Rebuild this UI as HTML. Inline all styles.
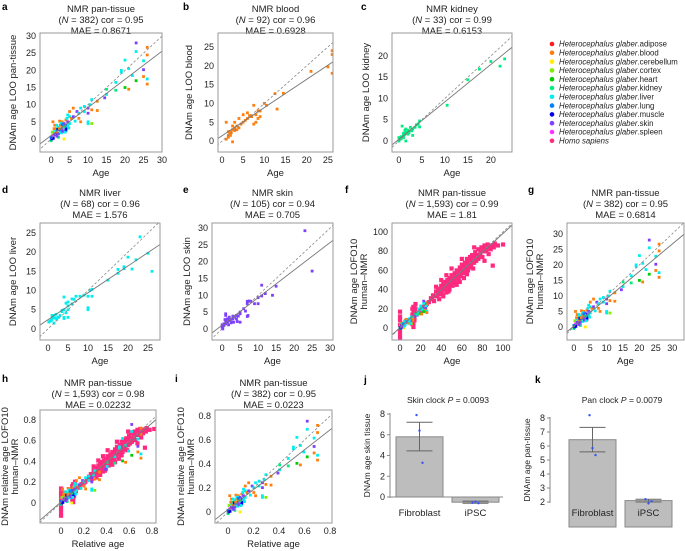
<!DOCTYPE html>
<html><head><meta charset="utf-8"><style>
html,body{margin:0;padding:0;background:#fff;width:685px;height:551px;overflow:hidden}
svg{display:block;font-family:"Liberation Sans",sans-serif}
</style></head><body>
<svg id="fig" width="685" height="551" viewBox="0 0 685 551" xmlns="http://www.w3.org/2000/svg"></svg>
<script>
const tissueNames=["adipose","blood","cerebellum","cortex","heart","kidney","liver","lung","muscle","skin","spleen"];
const colors=["#ff1a1a","#ff7f0e","#ffee00","#80ee00","#00cc00","#00ee80","#00eeee","#0080ff","#0000ee","#7f3fff","#ff33ff","#ff2a80"];
// NMR pan-tissue [age, predicted, tissue]
const aPts=[[23,28,9],[26,26.7,1],[23,25.5,6],[26,24.5,1],[20,23,6],[25,22.8,6],[19,20,6],[21,20.5,6],[25,20.2,9],[19,19.5,6],[22,18.5,6],[25,18.2,1],[26,17.5,6],[17.5,16.5,6],[23,17,4],[26,16,1],[20,15,4],[21,14.5,1],[17.5,14.2,5],[15,14.5,5],[15,13,6],[14.5,12,9],[12.5,11,1],[11,11.5,6],[10.5,10,6],[10,9,9],[9,9.5,6],[11,8.5,1],[12.5,8.3,1],[10,7.5,9],[8,9,6],[7,8,9],[7.5,6,1],[8,5,1],[10,5,6],[11,4.5,3],[10,4.5,6],[6,9,1],[5,8,1],[4.5,7,6],[5,6.5,6],[4,5.5,1],[3,5,1],[4.5,5,9],[3.5,4.5,9],[2.5,4,1],[2,3.5,6],[3,3,9],[4,3,8],[1.5,3,5],[1,2.5,6],[1.5,2,1],[2,1.5,9],[0.5,5,1],[1,4,1],[0.5,1,10],[0,0.5,7],[0,-0.5,5],[0.3,2,3],[1.2,1.2,8],[2.5,2.5,7],[3.5,0,2],[0.2,0,8],[1.5,4,6],[3,3.8,1],[4,2.5,8],[2,0.5,5],[5,4.5,6],[6.5,5.2,6],[3.5,3.5,5],[2.8,1.8,6],[4.2,4,8],[0.8,3,1],[1.8,2.8,8],[4.8,3.2,6],[5.5,6,1],[7.5,7.5,6],[9,8,6],[6,6.5,9],[2.3,5.2,1],[3.2,2.2,9],[2.2,3,1],[4.5,4,6],[1,1.5,9],[3.8,2,6],[2.7,4.6,6],[4.3,6,6],[0.6,0.2,8],[1.6,0.8,9],[3,4.2,7]];
const bPts=[[26,24],[26,23],[25,19.7],[26,18],[21,18.5],[14.5,12.7],[12.5,12.6],[13,8.5],[10,10],[10.5,9.5],[9,8],[8.5,8],[8,7],[7.5,9.5],[7.5,4.5],[8,5],[8.5,6],[9,6.5],[6,7.5],[6,6],[5,5],[5,7],[4,6],[4.5,4.5],[3.5,4],[3,5],[3,3.5],[2.5,4],[2.5,3],[2,2],[2,1.5],[1.5,2.5],[1.5,1],[1,5],[1,0.5],[2.5,-0.2],[2,2.5],[1.8,1.8],[2.2,2.2],[3,2.8],[5.5,5.5],[7,6.5],[4,3.5],[6.5,6.8],[3.5,3],[1.5,1.5]];
const cPts=[[23,19.3],[22,17.6],[20,18.7],[17.5,16.9],[15,14.4],[10.5,8.4],[4.5,4.7],[4.5,3.3],[3.8,3.8],[3,2.8],[3,1.3],[2.5,3.2],[2,2.5],[1.5,2.8],[1.5,2],[1.2,1.5],[1,0.8],[1,1.3],[0.7,3.5],[0.5,0.5],[0,0],[0,0.8],[1.5,0],[2.2,2],[3.5,3.2],[1.8,1.8],[0.5,1],[1.3,2.5],[2.8,2.4],[4.2,4],[0.2,0.4],[1,1.8],[2,1.6]];
const dPts=[[23,24],[25,19.7],[22,18],[20,18.7],[26,15],[19,16.2],[19,15.7],[21,15.6],[17.5,15.5],[17.5,14.5],[15,12.7],[11,10.3],[10.5,10],[11,8.5],[10,8.5],[9,8.8],[8,8.5],[10,5.5],[10,5],[7,8.5],[6,7.8],[6.5,7.7],[5,7],[4.5,6.7],[5,6],[4,8.3],[5,5],[4,5],[3.5,4.5],[5,3],[4,3],[3,3.5],[2,3.8],[1.5,3.5],[1.2,3],[1,2.5],[0.5,2],[1.5,1.5],[1,3.5],[2.5,3],[0.2,1.8],[1.8,2.8],[3.5,4.8],[4.5,4.2],[6,6.5],[0.8,2.2],[2.2,2.5],[4,2.7]];
const ePts=[[23,29.2],[25,17.2],[15,12.7],[14,10],[11,13],[11,9.8],[10,9.3],[12,10.5],[10,7.5],[8,8.2],[7,8.2],[7,7.5],[7.5,8.3],[9,7.5],[7.2,4],[7,3.7],[6,6],[5,5],[5,4.5],[5,2],[4.5,3.8],[4,4],[4,3],[3.5,3.5],[3,3.8],[3,3],[2.5,2.5],[2,3.5],[2,2.5],[1.5,3],[1.5,2],[1,4.5],[1,4],[1,2],[1,1.5],[0.5,1.5],[0.5,1],[0,0.5],[0,1.2],[0.2,0],[1.2,2.5],[2.5,1.8],[3.2,2],[1.8,1.2],[0.8,2.8],[4.2,2.2],[6.5,5.3],[2.2,2.8]];
const humanPts=[[13,5],[13,12],[14,18],[14,22],[15,25],[15,15],[12,10],[11,8],[14,8],[16,14],[12,20],[13,16],[20,18],[22,22],[25,24],[28,27],[30,31],[32,34],[33,28],[35,38],[36,33],[37,40],[38,36],[38,30],[40,44],[40,38],[41,35],[42,46],[43,40],[44,48],[45,42],[45,37],[46,50],[47,44],[48,52],[48,40],[49,47],[50,55],[50,48],[51,44],[52,53],[53,57],[53,50],[54,47],[55,60],[55,53],[56,56],[57,50],[58,63],[58,58],[59,54],[60,66],[60,61],[61,57],[62,64],[62,52],[63,68],[64,62],[65,72],[65,66],[66,60],[67,69],[68,74],[68,65],[69,71],[70,76],[70,68],[71,62],[72,73],[73,79],[74,70],[75,76],[76,82],[76,72],[78,78],[79,84],[80,74],[81,80],[82,86],[84,80],[85,87],[86,77],[88,82],[90,86],[92,88],[95,86],[100,87],[90,65],[82,70],[72,84],[60,72],[50,62],[45,55],[40,50],[35,43],[55,45],[65,56],[58,48],[47,38],[42,33],
[12,14],[13,22],[14,12],[15,20],[12,4],[13,1],[36,38],[39,41],[41,42],[43,45],[44,41],[46,46],[47,49],[49,51],[51,50],[52,48],[54,55],[56,52],[57,59],[59,60],[61,62],[63,60],[64,66],[66,68],[67,63],[69,66],[71,72],[72,68],[73,75],[75,72],[77,76],[78,74],[80,80],[83,83],[86,84],[88,86],[91,84],[62,58],[58,55],[55,57],[53,54],[50,52],[48,46],[45,47],[42,40],[39,37],[37,35],[34,33],[31,30],[26,25],[23,22],[0,-15],[0,-11],[0,-7],[0,-3],[0,3],[0,8],[0,12],[0,17]];
const maxLifespan={nmr:37,human:122};
const jMeans=[5.8,-0.5], jUpper=[7.2,-0.4], jLower=[4.45,-0.6];
const jDots=[[7.9,6.4,3.3],[-0.55,-0.45,-0.6]];
const kMeans=[6.45,2.1], kUpper=[7.33,2.2], kLower=[5.58,2.0];
const kDots=[[8.2,5.85,5.35],[2.2,1.9,2.05]];
const barCats=["Fibroblast","iPSC"];

const NS="http://www.w3.org/2000/svg", svg=document.getElementById('fig');
function el(tag,attrs,parent,txt){const e=document.createElementNS(NS,tag);for(const k in attrs)e.setAttribute(k,attrs[k]);if(txt!==undefined)e.textContent=txt;(parent||svg).appendChild(e);return e;}
let clipN=0;
function panel(c){
  const g=el('g',{});
  
  
  const sx=v=>c.bx[0]+(v-c.xr[0])/(c.xr[1]-c.xr[0])*(c.bx[1]-c.bx[0]);
  const sy=v=>c.by[1]-(v-c.yr[0])/(c.yr[1]-c.yr[0])*(c.by[1]-c.by[0]);
  const cx=(c.bx[0]+c.bx[1])/2;
  c.title.forEach((t,i)=>{const tt=el('text',{x:cx,y:c.ty+i*11,'text-anchor':'middle','font-size':'9.5',fill:'#222'},g);tt.innerHTML=t;});
  const id='cl'+(clipN++);
  const cp=el('clipPath',{id},g);el('rect',{x:c.bx[0],y:c.by[0],width:c.bx[1]-c.bx[0],height:c.by[1]-c.by[0]},cp);
  const inner=el('g',{'clip-path':'url(#'+id+')'},g);
  const pts=el('g',{},inner);
  
  
  c.series.forEach(s=>{const sz=s.sz||2.8;s.pts.forEach(p=>{const col=colors[p.length>2?p[2]:s.col];
    const r=el('rect',{x:sx(p[0]/(s.div||1))-sz/2,y:sy(p[1]/(s.div||1))-sz/2,width:sz,height:sz,fill:col},pts);
    });});
  const dl=el('line',{x1:sx(c.xr[0]-5),y1:sy(c.xr[0]-5),x2:sx(c.xr[1]+5),y2:sy(c.xr[1]+5),stroke:'#888','stroke-width':0.8,'stroke-dasharray':'2.5,2'},inner);
  
  const L=c.xr[1]-c.xr[0];
  const rl=el('line',{x1:sx(c.xr[0]-L),y1:sy(c.fit[0]+c.fit[1]*(c.xr[0]-L)),x2:sx(c.xr[1]+L),y2:sy(c.fit[0]+c.fit[1]*(c.xr[1]+L)),stroke:'#777','stroke-width':0.9},inner);
  
  const bx=el('rect',{x:c.bx[0],y:c.by[0],width:c.bx[1]-c.bx[0],height:c.by[1]-c.by[0],fill:'none',stroke:'#999','stroke-width':1},g);
  
  c.xt.forEach(v=>{const t=el('text',{x:sx(v),y:c.by[1]+11,'text-anchor':'middle','font-size':'9',fill:'#222'},g,String(v));});
  c.yt.forEach(v=>{const t=el('text',{x:c.bx[0]-4,y:sy(v)+3,'text-anchor':'end','font-size':'9',fill:'#222'},g,String(v));});
  const xl=el('text',{x:cx,y:c.by[1]+24,'text-anchor':'middle','font-size':'9.5',fill:'#222'},g,c.xlab);
  
  const my=(c.by[0]+c.by[1])/2;
  c.ylab.forEach((t,i)=>{const yl=el('text',{x:0,y:0,transform:`translate(${c.yx+i*10},${my}) rotate(-90)`,'text-anchor':'middle','font-size':'9.5',fill:'#222'},g,t);});
  const lb=el('text',{x:c.lab[1],y:c.lab[2],'font-size':'10','font-weight':'bold',fill:'#000'},g,c.lab[0]);
  
}
const N=n=>`(<tspan font-style="italic">N</tspan> = ${n})`;
panel({name:'panel-a',lab:['a',2,10],bx:[40,162],by:[33,152],xr:[-3,30],yr:[-3.8,30.9],xt:[0,5,10,15,20,25,30],yt:[0,5,10,15,20,25,30],title:['NMR pan-tissue',N(382)+' cor = 0.95','MAE = 0.8671'],ty:12,fit:[1,0.82],series:[{pts:aPts}],xlab:'Age',ylab:['DNAm age LOO pan-tissue'],yx:16});
panel({name:'panel-b',lab:['b',183,10],bx:[218,333],by:[33,152],xr:[-0.94,26.2],yr:[-2.9,28.7],xt:[0,5,10,15,20,25],yt:[0,5,10,15,20,25],title:['NMR blood',N(92)+' cor = 0.96','MAE = 0.6928'],ty:12,fit:[1.4,0.75],series:[{pts:bPts,col:1}],xlab:'Age',ylab:['DNAm age LOO blood'],yx:192});
panel({name:'panel-c',lab:['c',361,10],bx:[392,512],by:[33,152],xr:[-1.5,24.6],yr:[-2.6,25.4],xt:[0,5,10,15,20],yt:[0,5,10,15,20],title:['NMR kidney',N(33)+' cor = 0.99','MAE = 0.6153'],ty:12,fit:[0.4,0.88],series:[{pts:cPts,col:5}],xlab:'Age',ylab:['DNAm age LOO kidney'],yx:369});
panel({name:'panel-d',lab:['d',2,193],bx:[40,160],by:[223,340],xr:[-2,28],yr:[-2.9,27.6],xt:[0,5,10,15,20,25],yt:[0,5,10,15,20,25],title:['NMR liver',N(68)+' cor = 0.96','MAE = 1.576'],ty:196,fit:[2.4,0.7],series:[{pts:dPts,col:6}],xlab:'Age',ylab:['DNAm age LOO liver'],yx:16});
panel({name:'panel-e',lab:['e',183,193],bx:[212,333],by:[223,340],xr:[-2.8,30.8],yr:[-3.3,31.5],xt:[0,5,10,15,20,25,30],yt:[0,5,10,15,20,25,30],title:['NMR skin',N(105)+' cor = 0.94','MAE = 0.705'],ty:196,fit:[1.1,0.82],series:[{pts:ePts,col:9}],xlab:'Age',ylab:['DNAm age LOO skin'],yx:190});
panel({name:'panel-f',lab:['f',345,193],bx:[392,512],by:[223,340],xr:[-7.8,108.7],yr:[-12.5,109.4],xt:[0,20,40,60,80,100],yt:[0,20,40,60,80,100],title:['NMR pan-tissue',N('1,593')+' cor = 0.99','MAE = 1.81'],ty:196,fit:[0.5,0.98],series:[{pts:humanPts,col:11,sz:4.2},{pts:aPts}],xlab:'Age',ylab:['DNAm age LOFO10','human\u2013NMR'],yx:357});
panel({name:'panel-g',lab:['g',528,193],bx:[567,684],by:[223,340],xr:[-2.1,33.6],yr:[-4.2,33.5],xt:[0,5,10,15,20,25,30],yt:[0,5,10,15,20,25,30],title:['NMR pan-tissue',N(382)+' cor = 0.95','MAE = 0.6814'],ty:196,fit:[0.3,0.88],series:[{pts:aPts}],xlab:'Age',ylab:['DNAm age LOFO10','human\u2013NMR'],yx:533});
panel({name:'panel-h',lab:['h',2,382],bx:[40,156],by:[410,523],xr:[-0.185,0.835],yr:[-0.193,0.896],xt:[0,0.2,0.4,0.6,0.8],yt:[0,0.2,0.4,0.6,0.8],title:['NMR pan-tissue',N('1,593')+' cor = 0.98','MAE = 0.02232'],ty:386,fit:[0.01,0.95],series:[{pts:humanPts,col:11,sz:4.2,div:maxLifespan.human},{pts:aPts,div:maxLifespan.nmr}],xlab:'Relative age',ylab:['DNAm relative age LOFO10','human\u2013NMR'],yx:8});
panel({name:'panel-i',lab:['i',175,382],bx:[215,332],by:[410,523],xr:[-0.102,0.816],yr:[-0.092,0.85],xt:[0,0.2,0.4,0.6,0.8],yt:[0,0.2,0.4,0.6,0.8],title:['NMR pan-tissue',N(382)+' cor = 0.95','MAE = 0.0223'],ty:386,fit:[0.02,0.83],series:[{pts:aPts,div:maxLifespan.nmr}],xlab:'Relative age',ylab:['DNAm relative age LOFO10','human\u2013NMR'],yx:184});

function bars(c){
  const g=el('g',{});
  
  
  const sy=v=>c.y0px-(v-c.yr[0])/(c.yr[1]-c.yr[0])*(c.y0px-c.y1px);
  const lb=el('text',{x:c.lab[1],y:c.lab[2],'font-size':'10','font-weight':'bold'},g,c.lab[0]);
  
  const tt=el('text',{x:c.tx,y:403,'text-anchor':'middle','font-size':'8.5',fill:'#222'},g);tt.innerHTML=c.title;
  
  c.means.forEach((m,i)=>{
    const x=c.barX[i],w=47,base=c.base===null?sy(0):c.base;
    const top=Math.min(sy(m),base),h=Math.abs(sy(m)-base);
    const r=el('rect',{x,y:top,width:w,height:h,fill:'#bdbdbd',stroke:'#888','stroke-width':1},g);
    
    const mx=x+w/2;
    const e=el('path',{d:`M${mx},${sy(c.up[i])}V${sy(c.lo[i])}M${mx-13},${sy(c.up[i])}H${mx+13}M${mx-13},${sy(c.lo[i])}H${mx+13}`,stroke:'#666','stroke-width':1,fill:'none'},g);
    
    c.dots[i].forEach((v,j)=>{const d=el('circle',{cx:mx+(j-1)*3,cy:sy(v),r:1.2,fill:'#3355ff'},g);});
    const t=el('text',{x:mx,y:516,'text-anchor':'middle','font-size':'9.5',fill:'#222'},g,barCats[i]);
    
  });
  const ax=el('line',{x1:c.axX,y1:sy(c.yt[c.yt.length-1])-1,x2:c.axX,y2:sy(c.yt[0])+1,stroke:'#888','stroke-width':1},g);
  
  c.yt.forEach(v=>{el('line',{x1:c.axX-3,x2:c.axX,y1:sy(v),y2:sy(v),stroke:'#888'},g);
    const t=el('text',{x:c.axX-5,y:sy(v)+3,'text-anchor':'end','font-size':'9',fill:'#222'},g,String(v));});
  if(c.base===null){const b=el('line',{x1:c.axX,x2:503,y1:sy(0),y2:sy(0),stroke:'#888'},g);}
  const yl=el('text',{x:0,y:0,transform:`translate(${c.axX-20},${(c.y0px+c.y1px)/2}) rotate(-90)`,'text-anchor':'middle','font-size':'8.5',fill:'#222'},g,c.ylab);
  
}
bars({name:'panel-j',lab:['j',364,383],tx:448,title:'Skin clock <tspan font-style="italic">P</tspan> = 0.0093',yr:[0,8],y0px:497,y1px:414,yt:[0,2,4,6,8],means:jMeans,up:jUpper,lo:jLower,dots:jDots,barX:[396,452],base:null,axX:390,ylab:'DNAm age skin tissue'});
bars({name:'panel-k',lab:['k',535,383],tx:622,title:'Pan clock <tspan font-style="italic">P</tspan> = 0.0079',yr:[2,8],y0px:502,y1px:418,yt:[2,3,4,5,6,7,8],means:kMeans,up:kUpper,lo:kLower,dots:kDots,barX:[569,625],base:527,axX:550,ylab:'DNAm age pan-tissue'});

// legend
const leg=el('g',{});


colors.forEach((c,i)=>{
  const y=44+i*8.8;
  const d=el('circle',{cx:552,cy:y,r:2.3,fill:c},leg);
  
  const t=el('text',{x:559,y:y+2.7,'font-size':'7.8',fill:'#222'},leg);
  t.innerHTML=i<11?`<tspan font-style="italic">Heterocephalus glaber</tspan>.${tissueNames[i]}`:'<tspan font-style="italic">Homo sapiens</tspan>';
  
});
</script>
</body></html>
